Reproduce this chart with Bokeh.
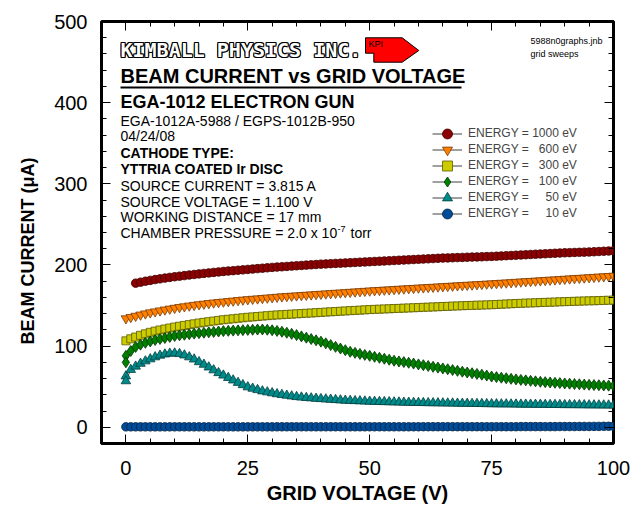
from bokeh.plotting import figure
from bokeh.models import (Range1d, LinearAxis, SingleIntervalTicker, Label, Legend,
                          LegendItem, ColumnDataSource, Title)
from bokeh.embed import file_html
from bokeh.resources import INLINE

# ---------------- data ----------------
GRID_V = list(range(0, 101))          # grid voltage sweep, 1 V steps

# 1000 eV  (sweep starts at 2 V)
I_1000 = [177.6, 178.8, 180.0, 181.0, 182.0, 182.9, 183.8, 184.7, 185.5,
          186.2, 186.9, 187.6, 188.3, 189.0, 189.6, 190.2, 190.8, 191.4, 192.0,
          192.5, 193.0, 193.5, 194.0, 194.5, 195.0, 195.5, 196.0, 196.5, 197.0,
          197.4, 197.8, 198.2, 198.6, 199.0, 199.4, 199.8, 200.2, 200.6, 201.0,
          201.3, 201.6, 201.9, 202.2, 202.5, 202.8, 203.1, 203.4, 203.7, 204.0,
          204.3, 204.6, 204.9, 205.2, 205.5, 205.8, 206.1, 206.4, 206.7, 207.0,
          207.3, 207.6, 207.9, 208.2, 208.5, 208.7, 208.9, 209.1, 209.3, 209.5,
          209.7, 209.9, 210.1, 210.3, 210.5, 210.8, 211.1, 211.4, 211.7, 212.0,
          212.3, 212.6, 212.9, 213.2, 213.5, 213.8, 214.1, 214.4, 214.7, 215.0,
          215.2, 215.4, 215.6, 215.8, 216.0, 216.3, 216.6, 216.9, 217.2, 217.5]

I_600 = [134.0, 135.6, 137.1, 138.6, 140.0, 141.3, 142.5, 143.7, 144.8, 145.9, 146.9,
         147.9, 148.8, 149.7, 150.5, 151.3, 152.0, 152.7, 153.4, 154.0, 154.6,
         155.2, 155.8, 156.4, 157.0, 157.5, 158.0, 158.5, 159.0, 159.5, 160.0,
         160.5, 161.0, 161.4, 161.8, 162.2, 162.6, 163.0, 163.4, 163.8, 164.2,
         164.6, 165.0, 165.4, 165.8, 166.2, 166.6, 167.0, 167.4, 167.8, 168.2,
         168.6, 168.9, 169.3, 169.6, 170.0, 170.4, 170.7, 171.1, 171.4, 171.8,
         172.1, 172.5, 172.8, 173.2, 173.5, 173.9, 174.2, 174.6, 174.9, 175.3,
         175.6, 176.0, 176.3, 176.7, 177.0, 177.4, 177.8, 178.1, 178.5, 178.9,
         179.3, 179.7, 180.0, 180.4, 180.8, 181.2, 181.6, 181.9, 182.3, 182.7,
         183.1, 183.5, 183.8, 184.2, 184.6, 185.0, 185.4, 185.7, 186.1, 186.5]

I_300 = [106.5, 109.0, 111.2, 113.3, 115.2, 117.0, 118.5, 119.9, 121.1, 122.3, 123.5,
         124.5, 125.5, 126.5, 127.5, 128.5, 129.3, 130.1, 130.9, 131.7, 132.5,
         133.1, 133.7, 134.3, 134.9, 135.5, 136.0, 136.5, 137.0, 137.5, 138.0,
         138.4, 138.7, 139.1, 139.4, 139.8, 140.1, 140.5, 140.8, 141.2, 141.5,
         141.9, 142.3, 142.6, 143.0, 143.3, 143.7, 144.0, 144.3, 144.7, 145.0,
         145.3, 145.5, 145.8, 146.0, 146.3, 146.5, 146.8, 147.0, 147.3, 147.5,
         147.8, 148.0, 148.3, 148.5, 148.8, 149.0, 149.3, 149.5, 149.8, 150.0,
         150.2, 150.4, 150.6, 150.8, 151.0, 151.3, 151.6, 151.9, 152.2, 152.5,
         152.7, 153.0, 153.2, 153.4, 153.7, 153.9, 154.1, 154.3, 154.6, 154.8,
         155.0, 155.2, 155.4, 155.6, 155.8, 155.9, 156.1, 156.3, 156.5, 156.7]

I_100 = [80.0, 94.0, 99.0, 101.8, 104.0, 105.8, 107.5, 108.8, 110.0, 111.3, 112.5,
         113.3, 114.0, 114.7, 115.4, 116.0, 116.5, 117.0, 117.5, 118.0, 118.5,
         118.8, 119.1, 119.4, 119.7, 120.0, 120.2, 120.4, 120.5, 120.2, 119.5,
         118.7, 117.7, 116.5, 115.1, 113.6, 112.0, 110.4, 108.7, 107.1, 105.5,
         103.4, 101.3, 99.1, 97.0, 95.0, 93.0, 91.7, 90.4, 89.2, 88.0,
         86.8, 85.6, 84.4, 83.2, 82.0, 81.1, 80.3, 79.5, 78.5, 77.5,
         76.5, 75.5, 74.5, 73.5, 72.5, 71.5, 70.5, 69.5, 68.5, 67.5,
         66.6, 65.7, 64.8, 63.7, 62.5, 61.8, 61.1, 60.4, 59.7, 59.0,
         58.4, 57.8, 57.2, 56.6, 56.0, 55.6, 55.2, 54.8, 54.4, 54.0,
         53.7, 53.3, 53.0, 52.6, 52.3, 52.0, 51.8, 51.5, 51.3, 51.0]
I_100_FIRST = [88.0]                  # repeated reading at 0 V

I_50 = [57.0, 71.0, 75.0, 78.5, 81.5, 84.0, 86.5, 88.5, 90.0, 91.0, 91.2,
        90.5, 88.8, 86.5, 83.8, 80.5, 77.3, 74.0, 70.5, 67.0, 64.0,
        61.0, 58.0, 55.0, 52.2, 49.5, 47.8, 46.1, 44.5, 43.3, 42.1,
        41.0, 40.1, 39.2, 38.3, 37.5, 36.9, 36.4, 35.9, 35.4, 35.0,
        34.6, 34.2, 33.8, 33.4, 33.0, 32.8, 32.5, 32.3, 32.0, 31.8,
        31.6, 31.4, 31.3, 31.1, 30.9, 30.8, 30.6, 30.5, 30.3, 30.2,
        30.1, 30.0, 29.9, 29.8, 29.7, 29.6, 29.5, 29.4, 29.3, 29.2,
        29.1, 29.0, 28.9, 28.8, 28.7, 28.6, 28.5, 28.5, 28.4, 28.3,
        28.2, 28.2, 28.1, 28.0, 28.0, 27.9, 27.8, 27.8, 27.7, 27.6,
        27.6, 27.5, 27.5, 27.4, 27.3, 27.3, 27.2, 27.2, 27.1, 27.0]
I_50_FIRST = [63.0]                   # repeated reading at 0 V

I_10 = [0.5, 0.5, 0.5, 0.5, 0.5, 0.5, 0.5, 0.5, 0.5, 0.5, 0.5,
        0.5, 0.5, 0.5, 0.5, 0.5, 0.5, 0.5, 0.5, 0.5, 0.5,
        0.5, 0.5, 0.5, 0.5, 0.5, 0.5, 0.5, 0.5, 0.5, 0.5,
        0.6, 0.6, 0.6, 0.6, 0.6, 0.6, 0.6, 0.6, 0.6, 0.6,
        0.6, 0.6, 0.6, 0.6, 0.6, 0.6, 0.6, 0.6, 0.6, 0.6,
        0.6, 0.6, 0.6, 0.6, 0.6, 0.6, 0.6, 0.6, 0.6, 0.6,
        0.7, 0.7, 0.7, 0.7, 0.7, 0.7, 0.7, 0.7, 0.7, 0.7,
        0.7, 0.7, 0.7, 0.7, 0.7, 0.7, 0.7, 0.7, 0.7, 0.7,
        0.8, 0.8, 0.8, 0.8, 0.8, 0.8, 0.8, 0.8, 0.9, 0.9,
        0.9, 0.9, 1.0, 1.0, 1.0, 1.1, 1.1, 1.2, 1.2, 1.3]

ENERGY_LABELS = ["1000", "600", "300", "100", "50", "10"]

# ---------------- figure ----------------
FONT = "Liberation Sans"
FL, FT, FW, FH = 101, 21, 512, 422     # frame placement on the page (px)
p = figure(frame_width=FW, frame_height=FH,
           min_border_left=FL, min_border_right=20, min_border_top=FT, min_border_bottom=64,
           x_range=Range1d(-5, 100), y_range=Range1d(-20, 500),
           output_backend="svg", toolbar_location=None)
p.xgrid.visible = False
p.ygrid.visible = False
p.outline_line_color = "black"
p.outline_line_width = 3
p.background_fill_color = "white"
p.border_fill_color = "white"

xt = SingleIntervalTicker(interval=25, num_minor_ticks=5)
yt = SingleIntervalTicker(interval=100, num_minor_ticks=5)


def style_axis(ax, labels=True):
    ax.axis_line_color = None
    ax.major_tick_in = 9
    ax.major_tick_out = 0
    ax.minor_tick_in = 5
    ax.minor_tick_out = 0
    ax.major_tick_line_color = "black"
    ax.minor_tick_line_color = "black"
    ax.major_tick_line_width = 1
    ax.minor_tick_line_width = 1
    ax.major_label_text_font = FONT
    if labels:
        ax.major_label_text_color = "black"
        ax.major_label_text_font_size = "20px"
    else:
        ax.major_label_text_color = None
        ax.major_label_text_font_size = "8px"
        ax.major_label_standoff = 0


p.xaxis.ticker = xt
p.yaxis.ticker = yt
style_axis(p.xaxis[0])
style_axis(p.yaxis[0])
p.xaxis.major_label_standoff = 17
p.yaxis.major_label_standoff = 14

p.xaxis.axis_label = "GRID VOLTAGE (V)"
p.xaxis.axis_label_text_font = FONT
p.xaxis.axis_label_text_font_size = "20px"
p.xaxis.axis_label_text_font_style = "bold"
p.xaxis.axis_label_text_color = "black"
p.xaxis.axis_label_standoff = 4

top_ax = LinearAxis(ticker=xt)
style_axis(top_ax, labels=False)
p.add_layout(top_ax, "above")
right_ax = LinearAxis(ticker=yt)
style_axis(right_ax, labels=False)
p.add_layout(right_ax, "right")

# y axis title, placed as a side title so it can sit where the reference has it
p.add_layout(Title(text="BEAM CURRENT (\u03bcA)", align="left", offset=99,
                   text_font=FONT, text_font_size="18px", text_font_style="bold",
                   text_color="black", standoff=27), "left")


# page-pixel helpers for decoration placement
def dx(px):
    return -5 + (px - FL) * 105 / FW


def dy(py):
    return 500 - (py - FT) * 520 / FH


# ---------------- series ----------------
series = [
    (GRID_V[2:], I_1000, "circle", 8.5, "#8B0000", "#3d0000"),
    (GRID_V, I_600, "inverted_triangle", 9.5, "#FF8000", "#7a3a00"),
    (GRID_V, I_300, "square", 8, "#CCCC00", "#5c5c00"),
    ([0] + GRID_V, I_100_FIRST + I_100, "diamond", 11, "#008000", "#003300"),
    ([0] + GRID_V, I_50_FIRST + I_50, "triangle", 9.5, "#008B8B", "#003d3d"),
    (GRID_V, I_10, "circle", 8.5, "#004C99", "#001f40"),
]

for i, ((xs, ys, marker, size, fill, edge), lab_) in enumerate(zip(series, ENERGY_LABELS)):
    src = ColumnDataSource(dict(x=xs, y=ys))
    ln = p.line("x", "y", source=src, line_color="#404040", line_width=1)
    r = p.scatter("x", "y", source=src, marker=marker, size=size,
                  fill_color=fill, line_color=edge, line_width=0.8)
    pad = "\u00a0" * (2 * (4 - len(lab_)))
    item = LegendItem(label="ENERGY =\u00a0" + pad + lab_ + " eV", renderers=[ln, r])
    row_center = 133.3 + 16 * i                       # page px of this legend row
    leg = Legend(items=[item], location=(432 - FL, FT + FH - (row_center + 12.5)),
                 border_line_color=None, background_fill_alpha=0,
                 glyph_width=30, glyph_height=25, spacing=0,
                 label_standoff=6, padding=0, margin=0,
                 label_text_font=FONT, label_text_font_size="12px",
                 label_height=16)
    p.add_layout(leg)


# ---------------- texts ----------------
def lab(px, py, text, size, bold=False, font=FONT, color="black", align="left", **kw):
    p.add_layout(Label(x=dx(px), y=dy(py), text=text, text_font=font,
                       text_font_size=size, text_font_style="bold" if bold else "normal",
                       text_color=color, text_align=align, text_baseline="alphabetic", **kw))


# company name (outlined look)
for ox, oy in [(-1, 0), (1, 0), (0, -1), (0, 1), (-1, -1), (1, 1), (-1, 1), (1, -1)]:
    lab(120, 49, "KIMBALL PHYSICS INC.", "20px", bold=True, font="DejaVu Sans Mono",
        x_offset=ox, y_offset=oy)
lab(120, 49, "KIMBALL PHYSICS INC.", "20px", bold=True, font="DejaVu Sans Mono", color="white")

# KPI flag
LOGO_PX = [365, 401.7, 418.3, 401.7, 373.3, 373.3, 365]
LOGO_PY = [37.3, 37.3, 50, 61.7, 61.7, 52.7, 52.7]
p.patch([dx(v) for v in LOGO_PX], [dy(v) for v in LOGO_PY],
        fill_color="#FF0000", line_color="black", line_width=1)
lab(368, 43.5, "KPI", "9px")

lab(120, 75.5, "BEAM CURRENT vs GRID VOLTAGE", "20px", bold=True)
p.segment(x0=[dx(120)], y0=[dy(87)], x1=[dx(461)], y1=[dy(87)],
          line_color="black", line_width=2)

lab(120, 101, "EGA-1012 ELECTRON GUN", "18px", bold=True)
lab(120, 120, "EGA-1012A-5988 / EGPS-1012B-950", "14px")
lab(120, 135.3, "04/24/08", "14px")
lab(120, 152, "CATHODE TYPE:", "14px", bold=True)
lab(120, 168.5, "YTTRIA COATED Ir DISC", "14px", bold=True)
lab(120, 185.3, "SOURCE CURRENT = 3.815 A", "14px")
lab(120, 201, "SOURCE VOLTAGE = 1.100 V", "14px")
lab(120, 216.7, "WORKING DISTANCE = 17 mm", "14px")
lab(120, 232.8, "CHAMBER PRESSURE = 2.0 x 10", "14px")
lab(120, 228, "-7", "9px", x_offset=217)
lab(120, 232.8, "torr", "14px", x_offset=230)

lab(530, 40.7, "5988n0graphs.jnb", "9px")
lab(530, 53.3, "grid sweeps", "9px")

# fragment of neighbouring page text at the bottom-left corner
p.add_layout(Label(x=47 - FL, y=FT + FH - 505, x_units="screen", y_units="screen",
                   text="Performance:", text_font=FONT, text_font_size="14px",
                   text_align="right", text_baseline="middle", text_color="black"))

open("out.html", "w").write(file_html(p, INLINE))
